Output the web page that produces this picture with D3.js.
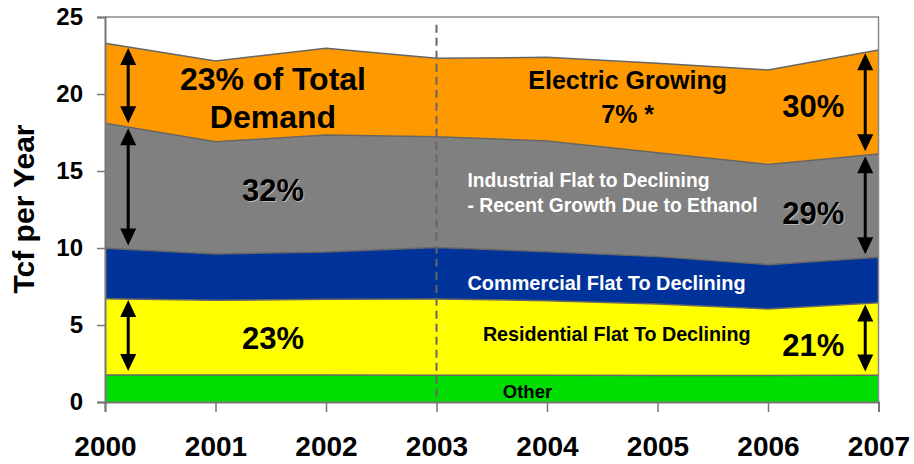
<!DOCTYPE html>
<html>
<head>
<meta charset="utf-8">
<script src="https://cdn.jsdelivr.net/npm/d3@7"></script>
<style>
  body { margin: 0; background: #fff; }
  text { font-family: "Liberation Sans", Arial, sans-serif; font-weight: bold; }
</style>
</head>
<body>
<script>
// gas demand by sector, Tcf per year
var years       = [2000, 2001, 2002, 2003, 2004, 2005, 2006, 2007];
var other       = [1.75, 1.75, 1.75, 1.74, 1.73, 1.72, 1.72, 1.73];
var residential = [4.96, 4.85, 4.92, 4.95, 4.85, 4.64, 4.32, 4.72];
var commercial  = [3.27, 3.01, 3.07, 3.35, 3.18, 3.08, 2.88, 2.95];
var industrial  = [8.12, 7.29, 7.60, 7.19, 7.19, 6.75, 6.51, 6.70];
var electric    = [5.19, 5.24, 5.63, 5.09, 5.43, 5.80, 6.13, 6.76];
var yTicks = [0, 5, 10, 15, 20, 25];

var keys = ['other', 'residential', 'commercial', 'industrial', 'electric'];
var colors = { other: '#00dd00', residential: '#ffff00', commercial: '#003399',
               industrial: '#808080', electric: '#ff9900' };

var table = years.map((yr, i) => ({
  year: yr, other: other[i], residential: residential[i], commercial: commercial[i],
  industrial: industrial[i], electric: electric[i]
}));

var svg = d3.select('body').append('svg')
  .attr('width', 914)
  .attr('height', 464);

var x = d3.scaleLinear().domain([2000, 2007]).range([105, 878.5]);
var y = d3.scaleLinear().domain([0, 25]).range([402, 17]);

var series = d3.stack().keys(keys)(table);

var area = d3.area()
  .x(d => x(d.data.year))
  .y0(d => y(d[0]))
  .y1(d => y(d[1]));

var topLine = d3.line()
  .x(d => x(d.data.year))
  .y(d => y(d[1]));

svg.selectAll('path.layer').data(series).enter().append('path')
  .attr('class', 'layer')
  .attr('d', area)
  .attr('fill', d => colors[d.key]);

svg.selectAll('path.edge').data(series).enter().append('path')
  .attr('class', 'edge')
  .attr('d', topLine)
  .attr('fill', 'none')
  .attr('stroke', '#666')
  .attr('stroke-width', 1.5);

// frame
svg.append('path')
  .attr('d', 'M' + x(2000) + ',' + y(25) + 'H' + x(2007) + 'V' + y(0))
  .attr('fill', 'none').attr('stroke', '#888').attr('stroke-width', 1.5);

// axes
var yAxis = svg.append('g')
  .attr('transform', 'translate(' + x(2000) + ',0)')
  .call(d3.axisLeft(y).tickValues(yTicks).tickSize(8).tickPadding(14));
var xAxis = svg.append('g')
  .attr('transform', 'translate(0,' + y(0) + ')')
  .call(d3.axisBottom(x).tickValues(years).tickFormat(d3.format('d')).tickSize(10).tickPadding(24));

[yAxis, xAxis].forEach(a => {
  a.select('.domain').attr('stroke', '#777').attr('stroke-width', 2);
  a.selectAll('.tick line').attr('stroke', '#777').attr('stroke-width', 1.5);
  a.selectAll('.tick text').attr('fill', '#000')
    .style('font-family', '"Liberation Sans", Arial, sans-serif').style('font-weight', 'bold');
});
yAxis.selectAll('.tick text').style('font-size', '24px');
xAxis.selectAll('.tick text').style('font-size', '28px');

svg.append('text')
  .attr('transform', 'translate(34,' + 209 + ') rotate(-90)')
  .attr('text-anchor', 'middle')
  .style('font-size', '30px')
  .text('Tcf per Year');

// 2003 divider
svg.append('line')
  .attr('x1', x(2003)).attr('x2', x(2003))
  .attr('y1', y(24.5)).attr('y2', y(0))
  .attr('stroke', '#666').attr('stroke-width', 2)
  .attr('stroke-dasharray', '8,5');

// double-headed arrows across layers
function topAt(key, yr) {
  var s = series[keys.indexOf(key)];
  var i = Math.min(Math.floor(yr - 2000), years.length - 2), t = yr - years[i];
  return {
    lo: s[i][0] + (s[i + 1][0] - s[i][0]) * t,
    hi: s[i][1] + (s[i + 1][1] - s[i][1]) * t
  };
}
var arrows = [
  { year: 2000.21, key: 'electric' },
  { year: 2000.21, key: 'industrial' },
  { year: 2000.21, key: 'residential' },
  { year: 2006.88, key: 'electric' },
  { year: 2006.88, key: 'industrial' },
  { year: 2006.88, key: 'residential' }
];
arrows.forEach(a => {
  var b = topAt(a.key, a.year);
  var ax = x(a.year), y1 = y(b.hi) + 1, y2 = y(b.lo) - 4;
  var g = svg.append('g');
  g.append('line').attr('x1', ax).attr('x2', ax).attr('y1', y1 + 10).attr('y2', y2 - 10)
    .attr('stroke', '#000').attr('stroke-width', 3);
  g.append('path').attr('d', 'M' + ax + ',' + y1 + 'l-8,17h16z').attr('fill', '#000');
  g.append('path').attr('d', 'M' + ax + ',' + y2 + 'l-8,-17h16z').attr('fill', '#000');
});

// labels
function label(txt, xv, yv, size, fill, anchor, shadow) {
  if (shadow) {
    svg.append('text').attr('x', x(xv) + 1).attr('y', y(yv) + 1)
      .attr('text-anchor', anchor).attr('fill', '#b8b8b8')
      .style('font-size', size + 'px').text(txt);
  }
  svg.append('text').attr('x', x(xv)).attr('y', y(yv))
    .attr('text-anchor', anchor).attr('fill', fill)
    .style('font-size', size + 'px').text(txt);
}
label('23% of Total', 2001.52, 20.26, 32, '#000', 'middle');
label('Demand', 2001.52, 17.79, 32, '#000', 'middle');
label('32%', 2001.52, 13.05, 31, '#000', 'middle', true);
label('23%', 2001.52, 3.44, 31, '#000', 'middle');
label('Electric Growing', 2004.73, 20.32, 25, '#000', 'middle');
label('7% *', 2004.73, 18.14, 25, '#000', 'middle');
label('30%', 2006.41, 18.51, 31, '#000', 'middle');
label('Industrial Flat to Declining', 2003.28, 13.96, 19.3, '#fff', 'start');
label('- Recent Growth Due to Ethanol', 2003.28, 12.32, 19.3, '#fff', 'start');
label('29%', 2006.41, 11.56, 31, '#000', 'middle', true);
label('Commercial Flat To Declining', 2003.28, 7.27, 19.9, '#fff', 'start');
label('Residential Flat To Declining', 2003.42, 3.98, 19.7, '#000', 'start');
label('21%', 2006.41, 2.99, 31, '#000', 'middle');
label('Other', 2003.6, 0.26, 18.5, '#000', 'start');
</script>
</body>
</html>
